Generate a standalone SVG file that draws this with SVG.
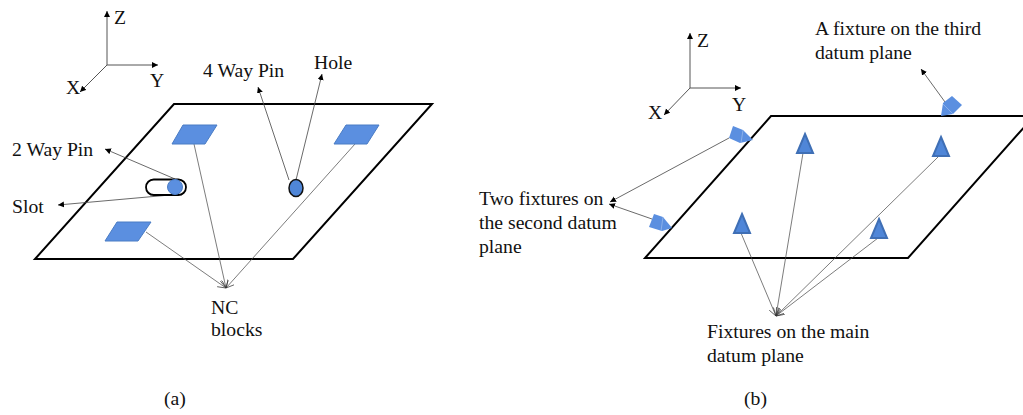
<svg xmlns="http://www.w3.org/2000/svg" width="1023" height="415" viewBox="0 0 1023 415">
<style>
text{font-family:"Liberation Serif","Times New Roman",serif;font-size:19.7px;fill:#111}
.plate{fill:#fff;stroke:#000;stroke-width:2}
.blue{fill:#5b8fe0;stroke:#4a7cc4;stroke-width:1}
.tri{fill:#4f86d8;stroke:#3f6fb5;stroke-width:2}
.wedge{fill:#5b8fe0}
.seam{fill:none;stroke:#9dbdee;stroke-width:.7}
.ax{fill:none;stroke:#555;stroke-width:1;marker-end:url(#a)}
.ln{fill:none;stroke:#444;stroke-width:.8;marker-end:url(#a)}
.op{fill:none;stroke:#444;stroke-width:.7;marker-end:url(#o)}
</style>
<defs>
<marker id="a" markerUnits="userSpaceOnUse" markerWidth="8" markerHeight="8" refX="6" refY="3" orient="auto"><path d="M0 0L6 3L0 6z" fill="#000"/></marker>
<marker id="o" markerUnits="userSpaceOnUse" markerWidth="10" markerHeight="10" refX="8" refY="4" orient="auto"><path d="M0 0L8 4L0 8" fill="none" stroke="#333" stroke-width=".7"/></marker>
</defs>
<rect width="1023" height="415" fill="#fff"/>
<g id="plate-a"><polygon class="plate" points="174,104 432,104 293,259 35,259"/></g>
<g id="plate-b"><polygon class="plate" points="771,116 1034,116 908,258 645,258"/></g>
<g id="connectors">
<path class="ax" d="M107 65V11"/><path class="ax" d="M107 65H158"/><path class="ax" d="M107 65L80 92"/>
<path class="ln" d="M175 179L105 149"/><path class="ln" d="M170 195L58 205"/>
<path class="ln" d="M289 180L258 87"/><path class="ln" d="M296 180L322 74"/>
<path class="op" d="M194 144L226 288"/><path class="op" d="M355 144L226 288"/><path class="op" d="M146 232L226 288"/>
<path class="ax" d="M690 88V33"/><path class="ax" d="M690 88H741"/><path class="ax" d="M690 88L664 115"/>
<path class="ln" d="M729 138L610 202"/><path class="ln" d="M652 219L609 204"/><path class="ln" d="M945 102L921 69"/>
<path class="op" d="M803 153L776 316"/><path class="op" d="M938 157L776 316"/><path class="op" d="M741 233L776 316"/><path class="op" d="M878 238L776 316"/>
</g>
<g id="nc-block-1"><polygon class="blue" points="172,144 183,125 217,125 205,144"/></g>
<g id="nc-block-2"><polygon class="blue" points="334,144 346,125 379,125 367,144"/></g>
<g id="nc-block-3"><polygon class="blue" points="105,241 117,222 151,222 138,241"/></g>
<g id="slot"><rect x="146" y="179.500" width="40" height="15.500" rx="7.700" fill="#fff" stroke="#000" stroke-width="1.800"/></g>
<g id="pin-2way"><circle class="blue" cx="175" cy="187" r="7.500"/></g>
<g id="pin-4way"><ellipse cx="296" cy="188" rx="7" ry="8.500" fill="#4f86d8" stroke="#111" stroke-width="1.500"/></g>
<g id="fixture-m1"><polygon class="tri" points="805,134 813,153 797,153"/></g>
<g id="fixture-m2"><polygon class="tri" points="941,137 949,156 933,156"/></g>
<g id="fixture-m3"><polygon class="tri" points="742,214 750,233 734,233"/></g>
<g id="fixture-m4"><polygon class="tri" points="879,219 887,238 871,238"/></g>
<g id="fixture-s1"><polygon class="wedge" points="733,126 743,130 753,140 740,143 729,138"/><path class="seam" d="M743 130L741 143"/></g>
<g id="fixture-s2"><polygon class="wedge" points="654,214 663,217 672,228 662,231 649,227"/><path class="seam" d="M663 217L661 231"/></g>
<g id="fixture-t"><polygon class="wedge" points="952,96 962,105 953,114 941,116 943,103"/><path class="seam" d="M943 104L953 114"/></g>
<g id="labels">
<text x="114" y="24">Z</text><text x="150" y="87">Y</text><text x="66" y="94">X</text>
<text x="203" y="77">4 Way Pin</text><text x="314" y="69">Hole</text>
<text x="12" y="156">2 Way Pin</text><text x="12" y="213">Slot</text>
<text x="211" y="314">NC</text><text x="211" y="336">blocks</text><text x="164" y="405">(a)</text>
<text x="697" y="47">Z</text><text x="732" y="111">Y</text><text x="648" y="119">X</text>
<text x="815" y="35">A fixture on the third</text><text x="815" y="59">datum plane</text>
<text x="479" y="205">Two fixtures on</text><text x="479" y="229">the second datum</text><text x="479" y="253">plane</text>
<text x="707" y="338">Fixtures on the main</text><text x="707" y="362">datum plane</text><text x="744" y="405">(b)</text>
</g>
</svg>
